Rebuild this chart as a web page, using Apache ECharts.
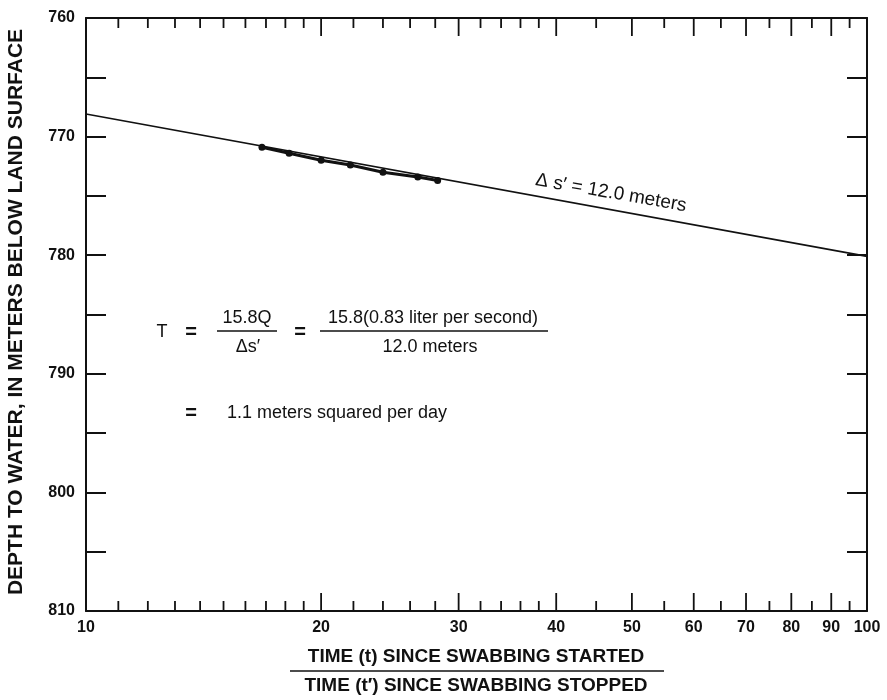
<!DOCTYPE html>
<html>
<head>
<meta charset="utf-8">
<script src="https://cdn.jsdelivr.net/npm/echarts@6/dist/echarts.min.js"></script>
<style>
  html, body { margin: 0; padding: 0; background: #fff; }
  #chart { width: 887px; height: 700px; }
</style>
</head>
<body>
<div id="chart"></div>
<script>
// Water-level recovery after swabbing: depth to water against t/t' on a log scale.
const timeRatio = [16.8, 18.2, 20.0, 21.8, 24.0, 26.6, 28.2];
const depthToWater = [770.9, 771.4, 772.0, 772.4, 773.0, 773.4, 773.7];

// Straight-line fit: drawdown of 12.0 meters over one log cycle.
const fitRatio = [10, 100];
const fitDepth = [768.1, 780.1];

// Log-axis ticks and labels.
const xLabelValues = [10, 20, 30, 40, 50, 60, 70, 80, 90, 100];
const xMajorTicks = [20, 30, 40, 50, 60, 70, 80, 90];
const xMinorTicks = [11, 12, 13, 14, 15, 16, 17, 18, 19, 22, 24, 26, 28, 32, 34, 36, 38, 45, 55, 65, 75, 85, 95];

const depthMin = 760, depthMax = 810, depthStep = 5, depthLabelStep = 10;

const FONT = '"Liberation Sans", Arial, Helvetica, sans-serif';
const INK = '#111';

const chart = echarts.init(document.getElementById('chart'), null, { renderer: 'canvas' });

function renderXTicks(params, api) {
  const v = api.value(0);
  const major = api.value(1) === 1;
  const top = api.coord([v, depthMin]);
  const bot = api.coord([v, depthMax]);
  const len = major ? 18 : 10;
  const style = { stroke: INK, lineWidth: 1.8 };
  return {
    type: 'group',
    children: [
      { type: 'line', shape: { x1: top[0], y1: top[1], x2: top[0], y2: top[1] + len }, style },
      { type: 'line', shape: { x1: bot[0], y1: bot[1], x2: bot[0], y2: bot[1] - len }, style }
    ]
  };
}

function renderXLabels(params, api) {
  const v = api.value(0);
  const p = api.coord([v, depthMax]);
  return {
    type: 'text',
    x: p[0], y: p[1] + 9,
    style: { text: String(v), textAlign: 'center', textVerticalAlign: 'top', font: 'bold 16px ' + FONT, fill: INK }
  };
}

const tickData = xMajorTicks.map(v => [v, 1]).concat(xMinorTicks.map(v => [v, 0]));

const yAxisBase = {
  type: 'value',
  inverse: true,
  min: depthMin,
  max: depthMax,
  interval: depthStep,
  splitLine: { show: false },
  axisLine: { show: true, lineStyle: { color: INK, width: 2 } },
  axisTick: { show: true, inside: true, length: 20, lineStyle: { color: INK, width: 2 } }
};

const t = (text, x, y, font, opts) => Object.assign({
  type: 'text', x, y,
  style: Object.assign({ text, font: font + ' ' + FONT, fill: INK, textAlign: 'center', textVerticalAlign: 'middle' }, (opts && opts.style) || {})
}, (opts && opts.el) || {});

const bar = (x1, x2, y) => ({
  type: 'line', shape: { x1, y1: y, x2, y2: y }, style: { stroke: INK, lineWidth: 1.4 }
});

chart.setOption({
  animation: false,
  backgroundColor: '#fff',
  grid: { left: 86, right: 20, top: 18, bottom: 89, containLabel: false },
  xAxis: [
    {
      type: 'log', logBase: 10, min: 10, max: 100, position: 'bottom',
      axisLine: { show: true, onZero: false, lineStyle: { color: INK, width: 2 } },
      axisTick: { show: false }, axisLabel: { show: false }, splitLine: { show: false }, minorTick: { show: false }
    },
    {
      type: 'log', logBase: 10, min: 10, max: 100, position: 'top',
      axisLine: { show: true, onZero: false, lineStyle: { color: INK, width: 2 } },
      axisTick: { show: false }, axisLabel: { show: false }, splitLine: { show: false }
    }
  ],
  yAxis: [
    Object.assign({}, yAxisBase, {
      position: 'left',
      axisLabel: {
        show: true, margin: 11, color: INK, fontSize: 16, fontWeight: 'bold', fontFamily: FONT,
        formatter: v => (v % depthLabelStep === 0 ? String(v) : '')
      }
    }),
    Object.assign({}, yAxisBase, {
      position: 'right',
      axisLabel: { show: false }
    })
  ],
  series: [
    {
      type: 'custom', name: 'ticks', xAxisIndex: 0, yAxisIndex: 0,
      renderItem: renderXTicks, data: tickData, clip: false, silent: true, z: 5
    },
    {
      type: 'custom', name: 'labels', xAxisIndex: 0, yAxisIndex: 0,
      renderItem: renderXLabels, data: xLabelValues.map(v => [v]), clip: false, silent: true
    },
    {
      type: 'line', name: 'fit', xAxisIndex: 0, yAxisIndex: 0,
      data: fitRatio.map((x, i) => [x, fitDepth[i]]),
      showSymbol: false, lineStyle: { color: INK, width: 1.6 }, silent: true, z: 3
    },
    {
      type: 'line', name: 'observed', xAxisIndex: 0, yAxisIndex: 0,
      data: timeRatio.map((x, i) => [x, depthToWater[i]]),
      symbol: 'circle', symbolSize: 7, showSymbol: true,
      itemStyle: { color: INK }, lineStyle: { color: INK, width: 3 }, silent: true, z: 4
    }
  ],
  graphic: [
    // Slope annotation along the fitted line
    t('\u0394 s\u2032 = 12.0 meters', 611, 193, '19px', { el: { rotation: -0.172 } }),

    // Transmissivity calculation
    t('T', 162, 332, '18px'),
    t('=', 191, 332, 'bold 20px'),
    t('15.8Q', 247, 318, '18px'),
    bar(217, 277, 331),
    t('\u0394s\u2032', 248, 347, '18px'),
    t('=', 300, 332, 'bold 20px'),
    t('15.8(0.83 liter per second)', 433, 318, '18px'),
    bar(320, 548, 331),
    t('12.0 meters', 430, 347, '18px'),
    t('=', 191, 413, 'bold 20px'),
    t('1.1 meters squared per day', 227, 413, '18px', { style: { textAlign: 'left' } }),

    // Axis titles
    t('DEPTH TO WATER, IN METERS BELOW LAND SURFACE', 16, 312, 'bold 21px', { el: { rotation: Math.PI / 2 } }),
    t('TIME (t) SINCE SWABBING STARTED', 476, 657, 'bold 19px'),
    bar(290, 664, 671),
    t('TIME (t\u2032) SINCE SWABBING STOPPED', 476, 686, 'bold 19px')
  ]
});
</script>
</body>
</html>
